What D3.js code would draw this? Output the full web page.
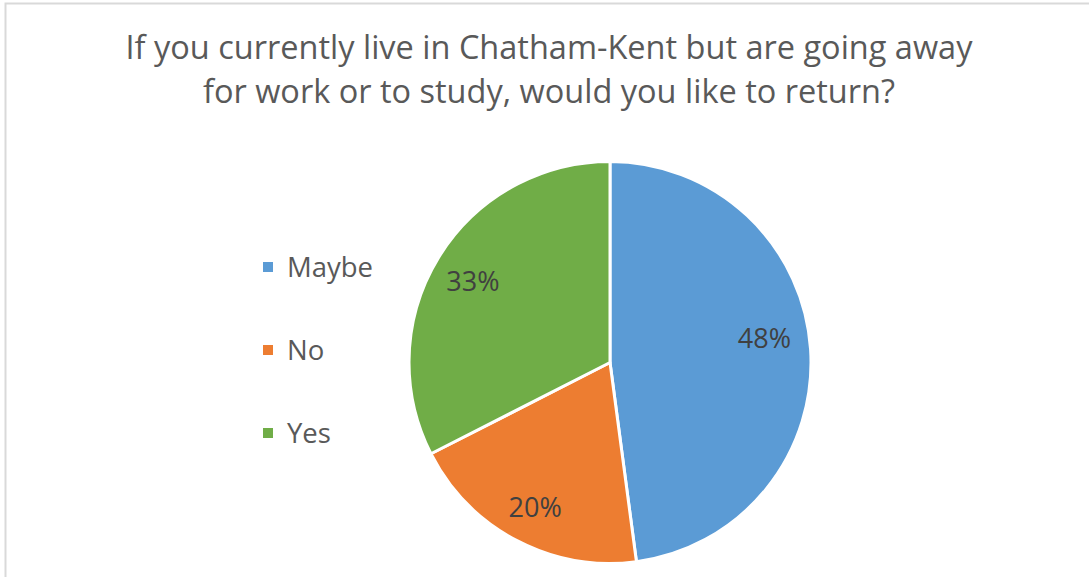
<!DOCTYPE html>
<html>
<head>
<meta charset="utf-8">
<script src="https://cdn.jsdelivr.net/npm/d3@7"></script>
<style>
  body { margin: 0; background: #fff; }
  svg { display: block; font-family: "Open Sans", sans-serif; }
</style>
</head>
<body>
<svg id="chart" width="1089" height="577"></svg>
<script>
/* ---- data ---- */
const titleLines = ['If you currently live in Chatham-Kent but are going away', 'for work or to study, would you like to return?']
const categories = ['Maybe', 'No', 'Yes']
const shares = [0.479, 0.196, 0.325]
const pctLabels = ['48%', '20%', '33%']
const colors = ['#5b9bd5', '#ed7d31', '#70ad47']

let svg = d3.select('#chart')

// chart frame (cut off on the right and bottom)
svg.append('rect')
    .attr('x', 5.5).attr('y', 3.5)
    .attr('width', 1100).attr('height', 600)
    .attr('fill', '#fff').attr('stroke', '#d9d9d9').attr('stroke-width', 2)

/* ---- title ---- */
svg.append('text')
    .attr('text-anchor', 'middle')
    .attr('fill', '#595959')
    .attr('font-size', 32.5)
    .selectAll('tspan')
    .data(titleLines)
    .enter().append('tspan')
    .attr('x', 549)
    .attr('y', (d, i) => 59 + i * 44)
    .text(d => d)

/* ---- pie ---- */
let cx = 610, cy = 362.5, radius = 201
let pie = d3.pie().sort(null).value(d => d)
let arc = d3.arc().innerRadius(0).outerRadius(radius)
let arcs = pie(shares)

let g = svg.append('g').attr('transform', 'translate(' + cx + ',' + cy + ')')

g.selectAll('path')
    .data(arcs)
    .enter().append('path')
    .attr('d', arc)
    .attr('fill', (d, i) => colors[i])
    .attr('stroke', '#fff')
    .attr('stroke-width', 3)
    .attr('stroke-linejoin', 'round')

// data labels around 0.8 of the radius
let labelArc = d3.arc().innerRadius(radius * 0.8).outerRadius(radius * 0.8)
g.selectAll('.pct')
    .data(arcs)
    .enter().append('text')
    .attr('class', 'pct')
    .attr('transform', d => 'translate(' + labelArc.centroid(d) + ')')
    .attr('text-anchor', 'middle')
    .attr('dx', (d, i) => i == 0 ? -6 : 0)
    .attr('dy', (d, i) => i == 0 ? '-0.15em' : '0.45em')  // excel nudges the big slice label up
    .attr('fill', '#404040')
    .attr('font-size', 27)
    .text((d, i) => pctLabels[i])

/* ---- legend ---- */
let legendY = d3.scalePoint().domain(categories).range([267, 433])
let legend = svg.append('g')
    .selectAll('g')
    .data(categories)
    .enter().append('g')
    .attr('transform', d => 'translate(263,' + legendY(d) + ')')

legend.append('rect')
    .attr('x', 0).attr('y', -5)
    .attr('width', 10).attr('height', 10)
    .attr('fill', (d, i) => colors[i])

legend.append('text')
    .attr('x', 24)
    .attr('dy', '0.35em')
    .attr('fill', '#595959')
    .attr('font-size', 27.5)
    .text(d => d)
</script>
</body>
</html>
